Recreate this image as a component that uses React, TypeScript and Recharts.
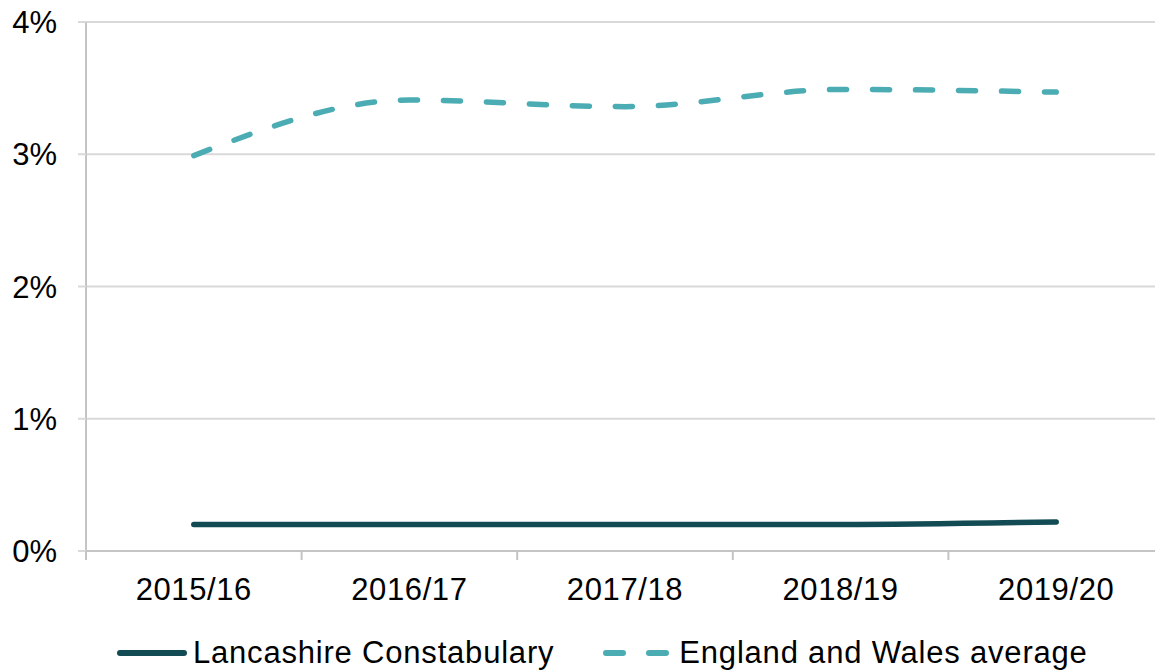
import React from 'react';
import { LineChart, Line, XAxis, YAxis, CartesianGrid, Legend } from 'recharts';

const categories = ['2015/16', '2016/17', '2017/18', '2018/19', '2019/20'];
const lancashire = [0.2, 0.2, 0.2, 0.2, 0.22];
const ewAverage = [2.99, 3.41, 3.36, 3.49, 3.47];
const yTicks = [0, 1, 2, 3, 4];

const LANC = 'Lancashire Constabulary';
const EW = 'England and Wales average';
const LANC_COLOR = '#134B54';
const EW_COLOR = '#4BADB3';
const AXIS_COLOR = '#C4C4C4';
const FONT = '"Liberation Sans", Arial, sans-serif';
const FS = 31;

const data = categories.map((c, i) => ({ cat: c, [LANC]: lancashire[i], [EW]: ewAverage[i] }));

const TICK_SIZE = 8;
const TICK_MARGIN = 19;

const XTick = (props: any) => {
  const { x, y, payload, index, visibleTicksCount } = props;
  const off = payload && payload.offset ? payload.offset : 0;
  const axisY = y - TICK_SIZE - TICK_MARGIN;
  return (
    <g>
      <line x1={x - off} x2={x - off} y1={axisY} y2={axisY + 9} stroke={AXIS_COLOR} strokeWidth={2} />
      {index === visibleTicksCount - 1 ? (
        <line x1={x + off} x2={x + off} y1={axisY} y2={axisY + 9} stroke={AXIS_COLOR} strokeWidth={2} />
      ) : null}
      <text x={x} y={y} dy="0.71em" textAnchor="middle" fill="#000" fontSize={FS} fontFamily={FONT} letterSpacing={0.6}>
        {payload.value}
      </text>
    </g>
  );
};

const LegendContent = () => (
  <div style={{ display: 'flex', alignItems: 'center', height: 40, fontFamily: FONT, fontSize: FS, color: '#000', whiteSpace: 'nowrap', letterSpacing: 0.8 }}>
    <svg width={76} height={12} style={{ marginLeft: 114 }}>
      <line x1={6} x2={70} y1={6} y2={6} stroke={LANC_COLOR} strokeWidth={6} strokeLinecap="round" />
    </svg>
    <span style={{ marginLeft: 3 }}>{LANC}</span>
    <svg width={68} height={12} style={{ marginLeft: 49 }}>
      <line x1={3} x2={66} y1={6} y2={6} stroke={EW_COLOR} strokeWidth={6} strokeLinecap="round" strokeDasharray="17 26" />
    </svg>
    <span style={{ marginLeft: 8 }}>{EW}</span>
  </div>
);

export default function App() {
  return (
    <div style={{ position: 'absolute', left: 0, top: 0, width: 1155, height: 670, overflow: 'hidden', background: '#fff' }}>
      <LineChart width={1164} height={670} data={data} margin={{ top: 22, right: 0, left: 0, bottom: 0 }}>
        <CartesianGrid vertical={false} stroke="#D9D9D9" strokeWidth={2} />
        <XAxis
          dataKey="cat"
          scale="band"
          height={119}
          tickLine={false}
          tickSize={TICK_SIZE}
          tickMargin={TICK_MARGIN}
          stroke={AXIS_COLOR}
          strokeWidth={2}
          tick={<XTick />}
          interval={0}
        />
        <YAxis
          width={86}
          domain={[0, 4]}
          ticks={yTicks}
          tickFormatter={(v: number) => `${v}%`}
          tickSize={8}
          tickMargin={21}
          stroke={AXIS_COLOR}
          strokeWidth={2}
          tick={{ fill: '#000', fontSize: FS, fontFamily: FONT }}
          tickLine={{ stroke: '#D9D9D9', strokeWidth: 2 }}
          interval={0}
        />
        <Legend
          verticalAlign="middle"
          align="center"
          layout="horizontal"
          content={<LegendContent />}
          wrapperStyle={{ position: 'absolute', top: 633, left: 0, width: 1164 }}
        />
        <Line
          dataKey={LANC}
          type="monotone"
          stroke={LANC_COLOR}
          strokeWidth={5.5}
          strokeLinecap="round"
          dot={false}
          activeDot={false}
          isAnimationActive={false}
        />
        <Line
          dataKey={EW}
          type="monotone"
          stroke={EW_COLOR}
          strokeWidth={5.5}
          strokeLinecap="round"
          strokeDasharray="17 26"
          dot={false}
          activeDot={false}
          isAnimationActive={false}
        />
      </LineChart>
    </div>
  );
}
